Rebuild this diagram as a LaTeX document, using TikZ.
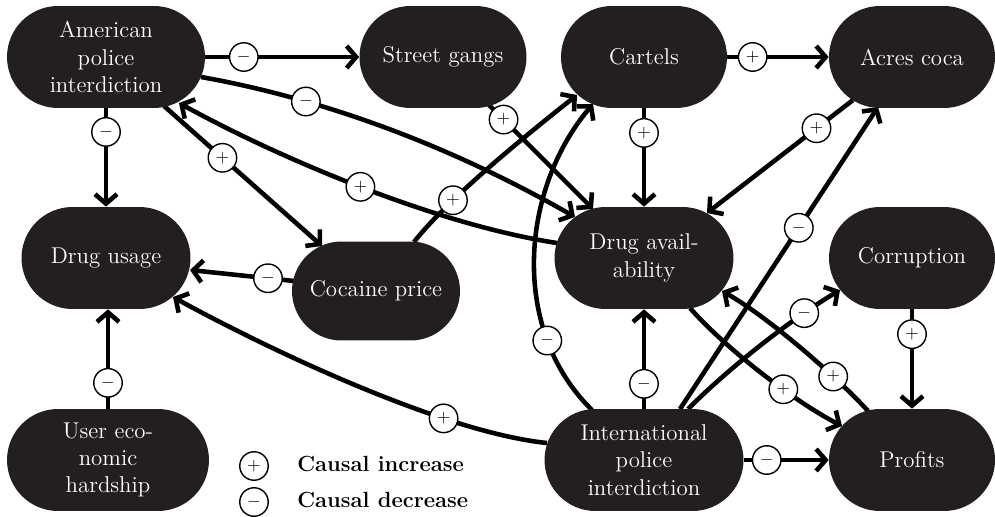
\documentclass[tikz,border=0pt]{standalone}
\usetikzlibrary{shapes.misc,arrows.meta,backgrounds}
\definecolor{boxfill}{RGB}{35,31,32}
\begin{document}
\begin{tikzpicture}[x=0.02cm,y=-0.02cm,
  factor/.style={rounded rectangle, fill=boxfill, text=white, align=center,
    inner sep=0pt, minimum height=2.04cm,
    font=\fontsize{13}{15.5}\selectfont},
  link/.style={line width=2.6pt, -{Straight Barb[length=1.9mm,width=4.4mm]}},
  sgn/.style={circle, draw, fill=white, line width=0.8pt, minimum size=0.57cm,
    inner sep=0pt, font=\normalsize},
  legtext/.style={font=\fontsize{12.5}{15}\selectfont\bfseries, inner sep=0pt}
]
\useasboundingbox (0,0) rectangle (995,517);

% factors of the causal loop diagram
\node[factor, minimum width=3.96cm] (api) at (106,57) {American\\police\\interdiction};
\node[factor, minimum width=3.34cm] (gangs) at (443,57) {Street gangs};
\node[factor, minimum width=3.32cm] (cartels) at (644,57) {Cartels};
\node[factor, minimum width=3.32cm] (coca) at (912,57) {Acres coca};
\node[factor, minimum width=3.38cm] (usage) at (106,258) {Drug usage};
\node[factor, minimum width=3.36cm, minimum height=1.98cm] (price) at (376,291) {Cocaine price};
\node[factor, minimum width=3.58cm] (avail) at (644,258) {Drug avail-\\ability};
\node[factor, minimum width=3.32cm] (corr) at (912,258) {Corruption};
\node[factor, minimum width=4.04cm] (hard) at (108,460) {User eco-\\nomic\\hardship};
\node[factor, minimum width=3.98cm] (ipi) at (644,460) {International\\police\\interdiction};
\node[factor, minimum width=3.32cm] (profits) at (912,460) {Profits};

% causal links
\begin{scope}[on background layer]
\draw[link] (api.east) -- node[sgn,pos=.25]{$-$} (gangs.west);
\draw[link] ([shift={(95,20)}]api.center) .. controls +(124,22) and +(-122,-70) ..
  node[sgn,pos=.28]{$-$} ([shift={(-69,-41)}]avail.center);
\draw[link] (api.south) -- node[sgn,pos=.24]{$-$} (api.south |- usage.north);
\draw[link] ([shift={(58,49)}]api.center) -- node[sgn,pos=.37]{$+$} ([shift={(-54,-45)}]price.center);
\draw[link] ([shift={(-87,-15)}]avail.center) .. controls +(-112,-17) and +(113,62) ..
  node[sgn,pos=.52]{$+$} ([shift={(73,46)}]api.center);
\draw[link] ([shift={(38,-49)}]price.center) .. controls +(33,-42) and +(-57,45) ..
  node[sgn,pos=.3]{$+$} ([shift={(-67,38)}]cartels.center);
\draw[link] ([shift={(46,48)}]gangs.center) -- node[sgn,pos=.14]{$+$} ([shift={(-51,-49)}]avail.center);
\draw[link] (cartels.south) -- node[sgn,pos=.25]{$+$} (avail.north);
\draw[link] (cartels.east) -- node[sgn,pos=.25]{$+$} (coca.west);
\draw[link] ([shift={(-59,43)}]coca.center) -- node[sgn,pos=.25]{$+$} ([shift={(63,-45)}]avail.center);
\draw[link] ([shift={(36,-51)}]ipi.center) -- node[sgn,pos=.6]{$-$} ([shift={(-34,50)}]coca.center);
\draw[link] ([shift={(-52,-50)}]ipi.center) .. controls +(-82,-80) and +(-73,86) ..
  node[sgn,pos=.25]{$-$} ([shift={(-51,47)}]cartels.center);
\draw[link] (ipi.north) -- node[sgn,pos=.25]{$-$} (avail.south);
\draw[link] ([shift={(44,-51)}]ipi.center) .. controls +(42,-42) and +(-50,30) ..
  node[sgn,pos=.77]{$-$} ([shift={(-72,32)}]corr.center);
\draw[link] (ipi.east) -- node[sgn,pos=.27]{$-$} (profits.west);
\draw[link] ([shift={(-97,-17)}]ipi.center) .. controls +(-107,-11) and +(87,48) ..
  node[sgn,pos=.28]{$+$} ([shift={(67,39)}]usage.center);
\draw[link] (hard.north) -- node[sgn,pos=.26]{$-$} (hard.north |- usage.south);
\draw[link] ([shift={(-82,-10)}]price.center) -- node[sgn,pos=.25]{$-$} ([shift={(84,12)}]usage.center);
\draw[link] ([shift={(46,50)}]avail.center) .. controls +(35,40) and +(-47,-24) ..
  node[sgn,pos=.63]{$+$} ([shift={(-70,-34)}]profits.center);
\draw[link] ([shift={(-44,-49)}]profits.center) .. controls +(-28,-31) and +(48,27) ..
  node[sgn,pos=.3]{$+$} ([shift={(78,33)}]avail.center);
\draw[link] (corr.south) -- node[sgn,pos=.25]{$+$} (profits.north);
\end{scope}

% legend
\node[sgn] (leginc) at (254,466) {$+$};
\node[sgn] (legdec) at (254,502) {$-$};
\node[legtext, anchor=base west] (inctext) at (297,471) {Causal increase};
\node[legtext, anchor=base west] (dectext) at (297,507) {Causal decrease};
\end{tikzpicture}
\end{document}
